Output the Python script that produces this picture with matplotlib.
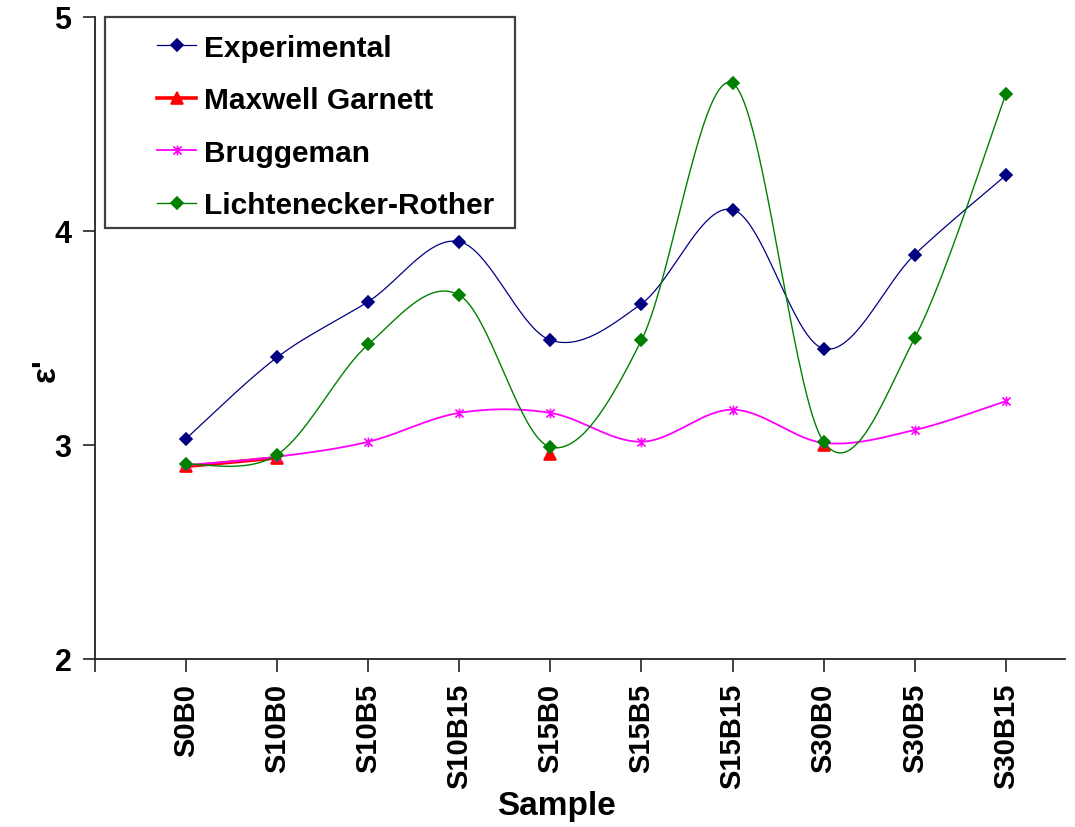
import numpy as np
import matplotlib
matplotlib.use('Agg')
import matplotlib.pyplot as plt
from matplotlib.path import Path
from matplotlib.patches import Rectangle
from matplotlib.lines import Line2D

plt.rcParams['font.family'] = ['Liberation Sans', 'DejaVu Sans']
plt.rcParams['font.weight'] = 'bold'

nan = np.nan
samples = ['S0B0', 'S10B0', 'S10B5', 'S10B15', 'S15B0', 'S15B5', 'S15B15', 'S30B0', 'S30B5', 'S30B15']
experimental = [3.03, 3.41, 3.67, 3.95, 3.49, 3.66, 4.10, 3.45, 3.89, 4.26]
maxwell_garnett = [2.90, 2.94, nan, nan, 2.96, nan, nan, 3.00, nan, nan]
bruggeman = [2.905, 2.945, 3.015, 3.15, 3.15, 3.015, 3.165, 3.01, 3.07, 3.205]
lichtenecker = [2.91, 2.955, 3.47, 3.70, 2.99, 3.49, 4.69, 3.015, 3.50, 4.64]

series_names = ['Experimental', 'Maxwell Garnett', 'Bruggeman', 'Lichtenecker-Rother']


def smooth_segments(x, y, n=40):
    """Catmull-Rom (Excel-style) smoothing over consecutive non-missing points."""
    x = np.asarray(x, float)
    y = np.asarray(y, float)
    ok = ~np.isnan(y)
    segs = []
    i = 0
    while i < len(y):
        if ok[i]:
            j = i
            while j + 1 < len(y) and ok[j + 1]:
                j += 1
            if j > i:
                segs.append(np.column_stack([x[i:j + 1], y[i:j + 1]]))
            i = j + 1
        else:
            i += 1
    out = []
    t = np.linspace(0, 1, n)[:, None]
    for pts in segs:
        m = len(pts)
        curve = []
        for k in range(m - 1):
            p0 = pts[k - 1] if k > 0 else pts[k]
            p1 = pts[k]
            p2 = pts[k + 1]
            p3 = pts[k + 2] if k + 2 < m else pts[k + 1]
            c1 = p1 + (p2 - p0) / 6.0
            c2 = p2 - (p3 - p1) / 6.0
            b = ((1 - t) ** 3) * p1 + 3 * ((1 - t) ** 2) * t * c1 + 3 * (1 - t) * t ** 2 * c2 + t ** 3 * p2
            curve.append(b if k == 0 else b[1:])
        out.append(np.vstack(curve))
    return out


star = Path([(-1, -1), (1, 1), (-1, 1), (1, -1), (0, -1.2), (0, 1.2)],
            [Path.MOVETO, Path.LINETO, Path.MOVETO, Path.LINETO, Path.MOVETO, Path.LINETO])

fig = plt.figure(figsize=(10.75, 8.28), dpi=100)
ax = fig.add_axes([0.0884, 0.2029, 0.9023, 0.7754])

xpos = np.arange(len(samples))
styles = [
    dict(color='#000080', marker='D', ms=6.5, lw=0.9, mfc='#000080', mec='#000080'),
    dict(color='#FF0000', marker='^', ms=8, lw=2.6, mfc='#FF0000', mec='#FF0000'),
    dict(color='#FF00FF', marker=star, ms=7, lw=1.3, mfc='none', mec='#FF00FF'),
    dict(color='#008000', marker='D', ms=6.5, lw=1.0, mfc='#008000', mec='#008000'),
]
data = [experimental, maxwell_garnett, bruggeman, lichtenecker]
handles = []
for name, vals, st in zip(series_names, data, styles):
    for seg in smooth_segments(xpos, vals):
        ax.plot(seg[:, 0], seg[:, 1], color=st['color'], lw=st['lw'], solid_capstyle='butt')
    ax.plot(xpos, vals, linestyle='none', marker=st['marker'], ms=st['ms'],
            mfc=st['mfc'], mec=st['mec'], mew=1.2)
    handles.append(Line2D([], [], color=st['color'], lw=st['lw'], marker=st['marker'],
                          ms=st['ms'], mfc=st['mfc'], mec=st['mec'], mew=1.2))

ax.set_xlim(-1, 9.65)
ax.set_ylim(2, 5)
ax.set_yticks([2, 3, 4, 5])
ax.set_yticklabels(['2', '3', '4', '5'], fontsize=22, fontweight='bold')
ax.set_xticks(np.arange(-1, len(samples)))
ax.set_xticklabels([''] + samples, rotation=90, fontsize=21, fontweight='bold')
ax.tick_params(axis='both', direction='out', length=9, width=1.2, color='#222222')
ax.tick_params(axis='y', pad=8)
ax.tick_params(axis='x', pad=8)
for s in ['top', 'right']:
    ax.spines[s].set_visible(False)
for s in ['left', 'bottom']:
    ax.spines[s].set_linewidth(1.3)
    ax.spines[s].set_color('#222222')

ax.add_patch(Rectangle((0.0103, 0.671), 0.4227, 0.329, transform=ax.transAxes,
                       fill=False, edgecolor='#404040', lw=1.6, clip_on=False, zorder=5))
leg = ax.legend(handles, series_names, loc='upper left', bbox_to_anchor=(0.064, 0.974),
                frameon=False, handlelength=1.3, handletextpad=0.28,
                labelspacing=0.82, borderpad=0, borderaxespad=0, numpoints=1,
                prop={'weight': 'bold', 'size': 21.5})

fig.text(0.043, 0.553, "ε'", rotation=90, fontsize=24, fontweight='bold',
         ha='center', va='center')
fig.text(0.518, 0.026, 'Sample', fontsize=24, fontweight='bold', ha='center', va='center')

fig.savefig('out.png', dpi=100)
